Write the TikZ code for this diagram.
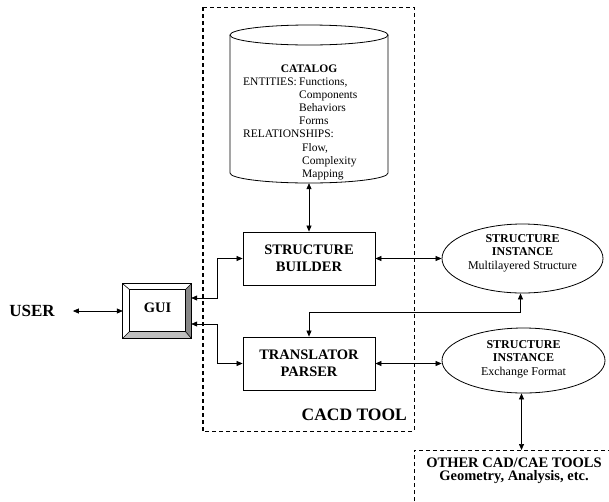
\documentclass[tikz,border=0pt]{standalone}
\usepackage{fontspec}
\setmainfont{Liberation Serif}
\usetikzlibrary{arrows.meta,shapes.geometric}
\tikzset{
  conn/.style={line width=0.7pt,{Triangle[length=6pt,width=5pt]}-{Triangle[length=6pt,width=5pt]}},
  blk/.style={draw,line width=0.8pt,minimum width=132pt,minimum height=53pt,align=center,
    font=\fontsize{14.5}{17.5}\selectfont\bfseries},
  ell/.style={draw,ellipse,line width=0.8pt},
  cattxt/.style={anchor=base west,inner sep=0pt,font=\fontsize{11.5}{13}\selectfont},
  elltxt/.style={align=center,inner sep=0pt,font=\fontsize{12}{13.5}\selectfont},
  dbox/.style={line width=0.8pt,dash pattern=on 4pt off 3pt},
}
\begin{document}
\begin{tikzpicture}[x=1pt,y=-1pt]
\useasboundingbox (0,0) rectangle (609,501);
\clip (0,0) rectangle (609,501);
% CACD tool dashed box
\draw[dbox] (203,7) -- (414,7) -- (414,431) -- (203,431);
\draw[line width=1.6pt,dash pattern=on 4pt off 3pt] (203,7) -- (203,431);
\node[anchor=base east,inner sep=0pt,font=\fontsize{17.5}{20}\selectfont\bfseries] (cacd) at (407,420) {CACD TOOL};
% other tools dashed box
\draw[dbox] (414,515) -- (414,450) -- (620,450);
\coordinate (oth) at (521,450);
\node[align=center,inner sep=0pt,font=\fontsize{14.5}{13.5}\selectfont\bfseries] (othtxt) at (514,471)
  {OTHER CAD/CAE TOOLS\\Geometry, Analysis, etc.};
% catalog cylinder
\fill[white] (230,35) rectangle (388,173);
\draw[line width=0.8pt] (309,35) ellipse [x radius=79pt, y radius=10pt];
\draw[line width=0.8pt] (230,35) -- (230,173) arc[start angle=180,end angle=360,x radius=79pt,y radius=10pt] -- (388,35);
\node[minimum width=158pt,minimum height=148pt,inner sep=0pt] (cat) at (309,109) {};
\node[anchor=base,inner sep=0pt,font=\fontsize{11.5}{13}\selectfont\bfseries] (t0) at (309,72) {CATALOG};
\node[cattxt] (t1) at (243,85) {ENTITIES:};
\node[cattxt] (t2) at (299,85) {Functions,};
\node[cattxt] (t3) at (299,98.2) {Components};
\node[cattxt] (t4) at (299,111.4) {Behaviors};
\node[cattxt] (t5) at (299,124.6) {Forms};
\node[cattxt] (t6) at (243,137.8) {RELATIONSHIPS:};
\node[cattxt] (t7) at (302,151) {Flow,};
\node[cattxt] (t8) at (302,164.2) {Complexity};
\node[cattxt] (t9) at (302,177.4) {Mapping};
% blocks
\node[blk] (sb) at (309,258.5) {STRUCTURE\\BUILDER};
\node[blk] (tp) at (309,363.5) {TRANSLATOR\\PARSER};
% ellipses
\node[ell,minimum width=161pt,minimum height=69pt] (e1) at (522.5,258.5) {};
\node[elltxt] (e1t) at (522.5,253) {\bfseries STRUCTURE\\\bfseries INSTANCE\\Multilayered Structure};
\node[ell,minimum width=163pt,minimum height=65pt] (e2) at (523.5,360.5) {};
\node[elltxt] (e2t) at (523.5,359) {\bfseries STRUCTURE\\\bfseries INSTANCE\\Exchange Format};
% GUI
\node[minimum width=68pt,minimum height=54pt,inner sep=0pt] (gui) at (157,311) {};
\node[minimum width=55pt,minimum height=41pt,inner sep=0pt] (guii) at (157.5,310.5) {};
\fill[white] (gui.north west) rectangle (gui.south east);
\fill[black!47] (gui.north east) -- (gui.south east) -- (guii.south east) -- (guii.north east) -- cycle;
\fill[black!25] (gui.south west) -- (gui.south east) -- (guii.south east) -- (guii.south west) -- cycle;
\draw[line width=0.8pt] (gui.north west) rectangle (gui.south east);
\draw[line width=0.8pt] (guii.north west) rectangle (guii.south east);
\draw[line width=0.6pt] (gui.north west) -- (guii.north west) (gui.north east) -- (guii.north east)
  (gui.south west) -- (guii.south west) (gui.south east) -- (guii.south east);
\node[inner sep=0pt,font=\fontsize{14.5}{17}\selectfont\bfseries] (guit) at (157.5,308) {GUI};
\node[inner sep=0pt,font=\fontsize{17}{20}\selectfont\bfseries] (user) at (32,311) {USER};
% connectors
\draw[conn] (cat.south) -- (sb.north);
\draw[conn,shorten <=18pt] (user.east) -- (gui.west);
\draw[conn] ([yshift=13pt]gui.east) -- ++(26,0) |- (sb.west);
\draw[conn] ([yshift=-13pt]gui.east) -- ++(26,0) |- (tp.west);
\draw[conn] (sb.east) -- (e1.west);
\draw[conn] (tp.east) -- (tp.east -| e2.west);
\draw[conn] ([xshift=-2pt]e1.south) -- ++(0,19) -| (tp.north);
\draw[conn] ([xshift=-2pt]e2.south) -- ([xshift=-2pt]e2.south |- oth);
\end{tikzpicture}
\end{document}
